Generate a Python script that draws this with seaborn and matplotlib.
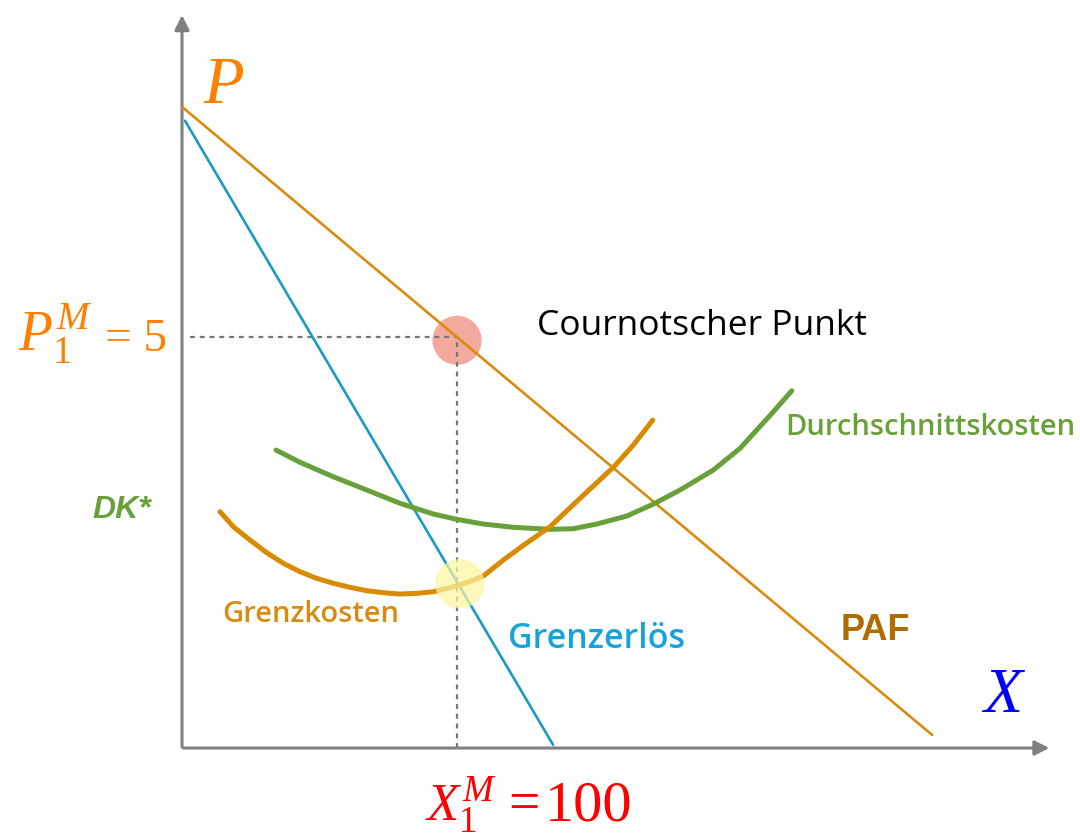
import numpy as np
import pandas as pd
import matplotlib
matplotlib.use("Agg")
import matplotlib.pyplot as plt
import seaborn as sns

# Monopol / Cournot diagram, values in economic units (X = Menge, P = Preis)
paf_x = [0, 272.7]
paf_p = [7.80, 0.16]

ge_x = [1.1, 134.9]
ge_p = [7.63, 0.04]

gk_x = [13.82, 18.65, 24.73, 30.80, 36.84, 42.91, 48.98, 55.02, 61.09, 67.16, 73.20, 79.27,
        85.35, 91.38, 97.45, 103.53, 109.56, 116.84, 124.7, 133.82, 144.73, 156.84, 164.11, 171.16]
gk_p = [2.875, 2.692, 2.530, 2.376, 2.247, 2.145, 2.064, 2.004, 1.955, 1.914, 1.889, 1.873,
        1.882, 1.901, 1.950, 2.011, 2.092, 2.287, 2.48, 2.692, 3.038, 3.415, 3.686, 3.990]

dk_x = [34.18, 42.91, 55.02, 67.16, 79.27, 91.38, 99.89, 109.56, 120.47, 133.82, 142.29,
        150.80, 161.71, 171.38, 181.09, 193.20, 202.91, 208.98, 215.02, 221.71]
dk_p = [3.625, 3.476, 3.300, 3.139, 2.977, 2.847, 2.782, 2.725, 2.685, 2.661, 2.668,
        2.725, 2.822, 2.968, 3.139, 3.382, 3.646, 3.869, 4.091, 4.347]

x_m = 100
p_m = 5
schnitt_gk_ge = (101, 2.0)

sns.set_style("white")
plt.rcParams["font.family"] = ["Open Sans", "DejaVu Sans"]
plt.rcParams["mathtext.fontset"] = "custom"
plt.rcParams["mathtext.rm"] = "Liberation Serif"
plt.rcParams["mathtext.it"] = "Liberation Serif:italic"

fig = plt.figure(figsize=(10.8, 8.35), dpi=100)
ax = fig.add_axes([0, 0, 1, 1])
ax.set_xlim(-66.18, 326.5)
ax.set_ylim(-1.058, 9.10)
ax.axis("off")

axis_col = "#808080"
ax.annotate("", xy=(0, 8.95), xytext=(0, -0.02),
            arrowprops=dict(arrowstyle="-|>", color=axis_col, lw=2.2, mutation_scale=22))
ax.annotate("", xy=(316.4, 0), xytext=(-0.5, 0),
            arrowprops=dict(arrowstyle="-|>", color=axis_col, lw=2.2, mutation_scale=22))

# Hilfslinien zum Cournotschen Punkt
ax.plot([2.9, x_m], [p_m, p_m], ls=(0, (2.2, 2.2)), color="#777777", lw=1.6, zorder=2)
ax.plot([x_m, x_m], [0, p_m], ls=(0, (2.2, 2.2)), color="#777777", lw=1.6, zorder=2)

ax.scatter([x_m], [p_m - 0.04], s=1250, color="#f4a99e", edgecolor="none", zorder=1)

sns.lineplot(x=paf_x, y=paf_p, color="#d98b0f", lw=1.9, ax=ax, zorder=3)
sns.lineplot(x=ge_x, y=ge_p, color="#1a9bc4", lw=1.9, ax=ax, zorder=3)
sns.lineplot(x=dk_x, y=dk_p, color="#68a03a", lw=3.6, ax=ax, sort=False,
             estimator=None, zorder=4, solid_joinstyle="round")
sns.lineplot(x=gk_x, y=gk_p, color="#d98b00", lw=3.6, ax=ax, sort=False,
             estimator=None, zorder=4, solid_joinstyle="round")

ax.scatter([schnitt_gk_ge[0]], [schnitt_gk_ge[1]], s=1250, color="#fbf6a0",
           edgecolor="none", alpha=0.72, zorder=5)

# Beschriftungen
ax.text(7.5, 7.85, "$P$", color="#ff8000", fontsize=48, ha="left", va="baseline")
ax.text(290.5, 0.44, "$X$", color="#0000ff", fontsize=46, ha="left", va="baseline")

ax.text(-59.5, 4.83, "$P_1^M$", color="#ff8000", fontsize=40, ha="left", va="baseline")
ax.text(-28, 4.83, "= 5", color="#ff8000", fontsize=34, family="Liberation Serif",
        ha="left", va="baseline")

ax.text(88.5, -0.88, "$X_1^M$", color="#ff0000", fontsize=38, ha="left", va="baseline")
ax.text(118.5, -0.88, "=", color="#ff0000", fontsize=40, family="Liberation Serif",
        ha="left", va="baseline")
ax.text(132.0, -0.88, "100", color="#ff0000", fontsize=42, family="Liberation Serif",
        ha="left", va="baseline")

ax.text(129, 5.02, "Cournotscher Punkt", color="black", fontsize=25.5, ha="left", va="baseline")
ax.text(219.3, 3.81, "Durchschnittskosten", color="#68a03a", fontsize=21,
        fontweight="semibold", ha="left", va="baseline")
ax.text(14.5, 1.53, "Grenzkosten", color="#d98b0f", fontsize=21,
        fontweight="semibold", ha="left", va="baseline")
ax.text(118.5, 1.22, "Grenzerlös", color="#16a3d9", fontsize=24.5,
        fontweight="semibold", ha="left", va="baseline")
ax.text(239.3, 1.31, "PAF", color="#b06c00", fontsize=26, fontweight="bold",
        family="Liberation Sans", ha="left", va="baseline")
ax.text(-32.4, 2.8, "DK*", color="#68a03a", fontsize=23, fontweight="bold",
        style="italic", family="Liberation Sans", ha="left", va="baseline")

fig.savefig("out.png", dpi=100)
